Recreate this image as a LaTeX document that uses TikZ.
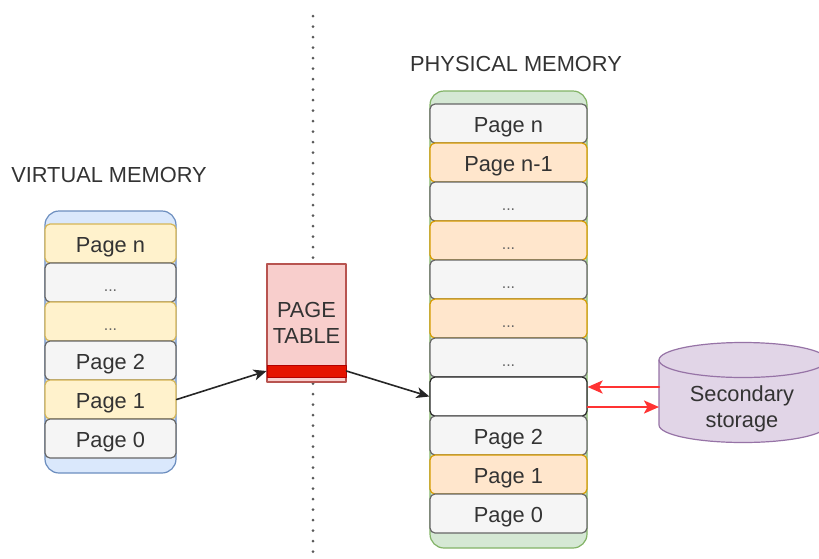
\documentclass[tikz,border=0pt]{standalone}
\usepackage{fontspec}
\setmainfont{Liberation Sans}
\usetikzlibrary{arrows.meta}
\usetikzlibrary{positioning}

\definecolor{blueFill}{HTML}{DAE8FC}
\definecolor{blueLine}{HTML}{6C8EBF}
\definecolor{greenFill}{HTML}{D5E8D4}
\definecolor{greenLine}{HTML}{82B366}
\definecolor{yellowFill}{HTML}{FFF2CC}
\definecolor{yellowLine}{HTML}{D6B656}
\definecolor{orangeFill}{HTML}{FFE6CC}
\definecolor{orangeLine}{HTML}{D79B00}
\definecolor{grayFill}{HTML}{F5F5F5}
\definecolor{grayLine}{HTML}{666666}
\definecolor{tableFill}{HTML}{F8CECC}
\definecolor{tableLine}{HTML}{B85450}
\definecolor{barFill}{HTML}{E51400}
\definecolor{barLine}{HTML}{B20000}
\definecolor{purpleFill}{HTML}{E1D5E7}
\definecolor{purpleLine}{HTML}{9673A6}
\definecolor{swapRed}{HTML}{FF3333}
\definecolor{txt}{HTML}{333333}

\newcommand{\more}{{\fontsize{8}{10}\selectfont\color{grayLine}...}}

\tikzset{
  lbl/.style={font=\fontsize{10.9}{13}\selectfont, text=txt, inner sep=0pt},
  frame/.style={draw, line width=0.6pt, rounded corners=7pt, inner sep=0pt},
  vrow/.style={lbl, draw, line width=0.6pt, rounded corners=2.5pt, minimum width=65.5pt, minimum height=19.5pt, text height=1.38ex+1.6pt, text depth=0pt},
  prow/.style={vrow, minimum width=78.5pt},
  gray/.style={fill=grayFill, draw=grayLine},
  yellow/.style={fill=yellowFill, draw=yellowLine},
  orange/.style={fill=orangeFill, draw=orangeLine},
  blank/.style={fill=white, draw=black!85},
  link/.style={-{Stealth[length=6.5pt,width=5.5pt,inset=1.8pt]}, line width=0.8pt, black!85},
  swap/.style={-{Stealth[length=7.5pt,width=6.5pt,inset=1.8pt]}, line width=1.2pt, swapRed}
}

\begin{document}
\begin{tikzpicture}[line cap=round,line join=round,x=0.5pt,y=-0.5pt]
\useasboundingbox (0,0) rectangle (819,558);
% separator
\draw[line width=1.5pt, black!65, dash pattern=on 0pt off 5.25pt] (313,16) -- (313,552);

% virtual memory
\node[lbl] (vtitle) at (109,175) {VIRTUAL MEMORY};
\node[frame, fill=blueFill, draw=blueLine, minimum width=65.5pt, minimum height=131pt] (vbox) at (110.5,342) {};
\foreach \txt/\sty [count=\i] in {Page n/yellow, \more/gray, \more/yellow, Page 2/gray, Page 1/yellow, Page 0/gray}
  \node[vrow,\sty] (v\i) at (110.5,{204.5+39*\i}) {\txt};

% page table
\node[lbl, draw=tableLine, fill=tableFill, line width=0.6pt, minimum width=39.5pt, minimum height=59pt, align=center] (ptable) at (306.5,323) {PAGE\\TABLE};
\node[draw=barLine, fill=barFill, line width=0.4pt, minimum width=39.5pt, minimum height=6pt, inner sep=0pt] (bar) at (306.5,371) {};

% physical memory
\node[lbl] (ptitle) at (516,64) {PHYSICAL MEMORY};
\node[frame, fill=greenFill, draw=greenLine, minimum width=78.5pt, minimum height=228.5pt] (pbox) at (508.5,319.5) {};
\foreach \txt/\sty [count=\i] in {Page n/gray, Page n-1/orange, \more/gray, \more/orange, \more/gray, \more/orange, \more/gray, /blank, Page 2/gray, Page 1/orange, Page 0/gray}
  \node[prow,\sty] (m\i) at (508.5,{84.5+39*\i}) {\txt};

% secondary storage
\draw[fill=purpleFill, draw=purpleLine, line width=0.6pt] (659,360) -- (659,425) arc[start angle=180, end angle=360, x radius=42pt, y radius=8.75pt] -- (827,360) arc[start angle=0, end angle=180, x radius=42pt, y radius=8.75pt] -- cycle;
\draw[draw=purpleLine, line width=0.6pt] (659,360) arc[start angle=180, end angle=360, x radius=42pt, y radius=8.75pt];
\node[lbl, align=center] (store) at (742,409) {Secondary\\storage};
\coordinate (storeIn) at (659,387);
\coordinate (storeOut) at (659,407);

% connectors
\draw[link] (v5.east) -- (bar.west);
\draw[link] (bar.east) -- (m8.west);
\draw[swap] (storeIn) -- (m8.east |- storeIn);
\draw[swap] (m8.east |- storeOut) -- (storeOut);
\end{tikzpicture}
\end{document}
